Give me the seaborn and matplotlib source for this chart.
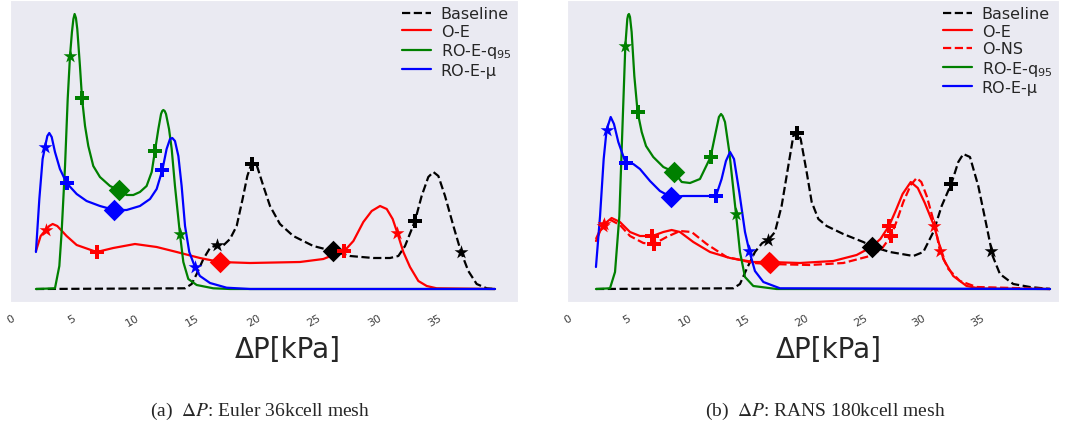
import matplotlib
matplotlib.use("Agg")
import matplotlib.pyplot as plt
import seaborn as sns

# ---- Euler 36kcell mesh (left panel) ----
euler_base_x = [2.06, 14.36, 14.91, 15.32, 15.87, 16.42, 16.97, 17.47, 18.07, 18.62, 19.11, 19.50, 19.86,
                20.27, 20.82, 21.37, 22.19, 23.29, 24.94, 26.54, 27.97, 29.89, 31.27, 31.96, 32.51, 33.33,
                33.88, 34.43, 34.85, 35.26, 35.81, 36.50, 37.13, 37.73, 38.42, 39.25, 39.93]
euler_base_y = [0, 0.0007, 0.005, 0.015, 0.030, 0.041, 0.044, 0.043, 0.050, 0.063, 0.090, 0.113, 0.126,
                0.124, 0.103, 0.083, 0.065, 0.053, 0.043, 0.038, 0.033, 0.031, 0.031, 0.033, 0.043, 0.068,
                0.093, 0.112, 0.117, 0.113, 0.093, 0.063, 0.037, 0.018, 0.005, 0.0007, 0]
euler_oe_x = [2.06, 2.45, 2.86, 3.16, 3.44, 3.82, 4.59, 5.42, 7.07, 8.44, 10.23, 12.02, 13.67, 15.59, 17.24,
              19.72, 23.84, 25.77, 26.59, 27.50, 28.25, 29.07, 29.76, 30.45, 31.00, 31.49, 31.88, 32.37,
              32.92, 33.61, 34.30, 35.12, 39.93]
euler_oe_y = [0.038, 0.053, 0.059, 0.063, 0.065, 0.063, 0.053, 0.044, 0.037, 0.041, 0.045, 0.042, 0.037,
              0.031, 0.027, 0.026, 0.027, 0.030, 0.034, 0.038, 0.048, 0.067, 0.078, 0.083, 0.080, 0.070,
              0.056, 0.037, 0.022, 0.008, 0.003, 0.0007, 0]
euler_q95_x = [2.06, 3.63, 3.99, 4.18, 4.46, 4.68, 4.87, 5.03, 5.15, 5.25, 5.36, 5.47, 5.69, 5.86, 6.11, 6.38,
               6.79, 7.34, 8.17, 8.88, 9.54, 10.09, 10.64, 11.19, 11.61, 11.88, 12.16, 12.38, 12.48, 12.57,
               12.68, 12.79, 13.04, 13.26, 13.53, 13.94, 14.22, 14.63, 15.32, 16.69, 18.07, 39.93]
euler_q95_y = [0, 0.0007, 0.023, 0.057, 0.123, 0.190, 0.233, 0.257, 0.270, 0.275, 0.271, 0.260, 0.223, 0.191,
               0.163, 0.143, 0.123, 0.112, 0.103, 0.099, 0.094, 0.094, 0.097, 0.103, 0.117, 0.138, 0.160,
               0.175, 0.178, 0.179, 0.178, 0.175, 0.160, 0.140, 0.103, 0.055, 0.027, 0.010, 0.004, 0.0007,
               0, 0]
euler_mu_x = [2.06, 2.34, 2.61, 2.81, 3.00, 3.16, 3.36, 3.63, 4.04, 4.59, 5.42, 6.24, 7.34, 8.53, 9.54, 10.64,
              11.47, 12.02, 12.49, 12.84, 13.12, 13.31, 13.53, 13.81, 14.08, 14.36, 14.71, 15.18, 15.59,
              16.42, 17.79, 19.72, 39.93]
euler_mu_y = [0.037, 0.090, 0.130, 0.142, 0.153, 0.156, 0.152, 0.137, 0.120, 0.106, 0.095, 0.088, 0.083,
              0.079, 0.079, 0.083, 0.090, 0.100, 0.119, 0.140, 0.150, 0.151, 0.148, 0.133, 0.103, 0.063,
              0.037, 0.022, 0.013, 0.006, 0.0013, 0, 0]
# quantile markers: star, plus, diamond, plus, star
euler_base_mx = [16.97, 19.86, 26.54, 33.33, 37.13]
euler_base_my = [0.044, 0.125, 0.038, 0.068, 0.037]
euler_oe_mx = [2.86, 7.07, 17.24, 27.50, 31.88]
euler_oe_my = [0.059, 0.037, 0.027, 0.038, 0.056]
euler_q95_mx = [4.87, 5.86, 8.88, 11.88, 13.94]
euler_q95_my = [0.233, 0.191, 0.099, 0.138, 0.055]
euler_mu_mx = [2.81, 4.59, 8.53, 12.49, 15.18]
euler_mu_my = [0.142, 0.106, 0.079, 0.119, 0.022]

# ---- RANS 180kcell mesh (right panel) ----
rans_base_x = [2.39, 14.13, 14.70, 15.27, 15.98, 16.60, 17.12, 17.69, 18.26, 18.83, 19.26, 19.54, 19.89,
               20.40, 20.83, 21.40, 22.11, 23.53, 25.24, 26.10, 27.52, 29.52, 30.37, 31.23, 31.94, 32.79,
               33.36, 33.79, 34.36, 35.07, 35.78, 36.30, 36.92, 38.06, 39.49, 41.20]
rans_base_y = [0, 0.0007, 0.005, 0.020, 0.037, 0.046, 0.049, 0.057, 0.083, 0.123, 0.153, 0.157, 0.150,
               0.117, 0.087, 0.070, 0.063, 0.055, 0.047, 0.042, 0.037, 0.033, 0.037, 0.057, 0.083, 0.106,
               0.127, 0.135, 0.132, 0.103, 0.063, 0.033, 0.015, 0.005, 0.002, 0]
rans_oe_x = [2.39, 2.75, 3.11, 3.73, 4.44, 5.30, 6.15, 7.21, 8.15, 8.86, 9.57, 10.71, 12.14, 13.85, 15.84,
             17.21, 19.83, 22.68, 24.67, 25.95, 26.70, 27.44, 28.00, 28.60, 29.30, 29.90, 30.50, 31.30,
             32.08, 32.93, 34.07, 35.20, 41.20]
rans_oe_y = [0.048, 0.058, 0.065, 0.071, 0.067, 0.057, 0.053, 0.053, 0.057, 0.059, 0.057, 0.047, 0.037,
             0.031, 0.027, 0.027, 0.026, 0.028, 0.034, 0.042, 0.050, 0.063, 0.078, 0.095, 0.107, 0.101,
             0.086, 0.063, 0.030, 0.013, 0.003, 0.0005, 0]
rans_ons_x = [2.39, 2.70, 3.02, 3.65, 4.44, 5.30, 6.44, 7.35, 8.43, 9.57, 10.57, 11.85, 13.56, 15.84, 17.30,
              20.68, 23.53, 25.81, 26.81, 27.61, 28.10, 28.66, 29.30, 29.80, 30.20, 30.66, 31.37, 31.79,
              32.51, 33.50, 34.93, 41.20]
rans_ons_y = [0.050, 0.058, 0.063, 0.069, 0.064, 0.053, 0.046, 0.045, 0.052, 0.058, 0.057, 0.045, 0.032,
              0.026, 0.025, 0.024, 0.026, 0.033, 0.040, 0.053, 0.068, 0.087, 0.104, 0.111, 0.107, 0.093,
              0.063, 0.038, 0.020, 0.008, 0.002, 0]
rans_q95_x = [2.39, 3.59, 4.02, 4.39, 4.65, 4.90, 5.07, 5.14, 5.21, 5.30, 5.44, 5.67, 5.95, 6.30, 6.67, 7.29,
              8.15, 9.06, 9.72, 10.43, 11.28, 12.19, 12.56, 12.90, 13.08, 13.22, 13.42, 13.79, 14.36, 14.70,
              15.13, 15.84, 17.83, 41.20]
rans_q95_y = [0, 0.0007, 0.017, 0.073, 0.160, 0.243, 0.270, 0.274, 0.275, 0.272, 0.257, 0.213, 0.177, 0.157,
              0.143, 0.132, 0.122, 0.117, 0.107, 0.106, 0.110, 0.132, 0.153, 0.172, 0.175, 0.173, 0.167,
              0.137, 0.075, 0.037, 0.012, 0.003, 0, 0]
rans_mu_x = [2.39, 2.74, 3.05, 3.30, 3.65, 3.93, 4.30, 4.93, 5.58, 6.15, 7.01, 7.86, 8.80, 9.86, 11.28, 12.65,
             13.13, 13.50, 13.85, 14.19, 14.64, 15.13, 15.50, 15.98, 16.70, 18.12, 41.20]
rans_mu_y = [0.022, 0.073, 0.130, 0.159, 0.172, 0.165, 0.147, 0.126, 0.125, 0.120, 0.108, 0.098, 0.092,
             0.093, 0.093, 0.093, 0.110, 0.128, 0.137, 0.130, 0.097, 0.057, 0.038, 0.018, 0.007, 0.0007, 0]
rans_base_mx = [17.12, 19.54, 26.00, 32.75, 36.20]
rans_base_my = [0.049, 0.156, 0.042, 0.105, 0.038]
rans_oe_mx = [3.11, 7.21, 17.21, 27.44, 31.30]
rans_oe_my = [0.065, 0.053, 0.027, 0.063, 0.063]
rans_ons_mx = [3.02, 7.35, 17.30, 27.61, 31.79]
rans_ons_my = [0.063, 0.045, 0.026, 0.053, 0.038]
rans_q95_mx = [4.90, 5.95, 9.06, 12.19, 14.36]
rans_q95_my = [0.243, 0.177, 0.117, 0.132, 0.075]
rans_mu_mx = [3.30, 4.93, 8.80, 12.65, 15.50]
rans_mu_my = [0.159, 0.126, 0.092, 0.093, 0.038]

tick_values = [0, 5, 10, 15, 20, 25, 30, 35]
marker_shapes = ['*', 'P', 'D', 'P', '*']
marker_sizes = [110, 90, 120, 90, 110]

sns.set_style('dark')
plt.rcParams['font.family'] = ['DejaVu Sans']
plt.rcParams['font.sans-serif'] = ['DejaVu Sans']
plt.rcParams['mathtext.fontset'] = 'dejavusans'


def draw_curve(ax, x, y, mx, my, color, ls, label):
    sns.lineplot(x=x, y=y, ax=ax, color=color, linestyle=ls, linewidth=1.6,
                 sort=False, estimator=None, label=label)
    for xi, yi, m, s in zip(mx, my, marker_shapes, marker_sizes):
        sns.scatterplot(x=[xi], y=[yi], ax=ax, marker=m, s=s, color=color,
                        linewidth=0, zorder=5)


def style_axis(ax, xlim, label_x, legend_size, spacing):
    ax.set_xlim(*xlim)
    ax.set_ylim(-0.013, 0.289)
    ax.set_xticks(tick_values)
    ax.set_xticklabels([str(t) for t in tick_values], family='DejaVu Sans')
    ax.tick_params(axis='x', labelsize=8, rotation=30, colors='.25', pad=4)
    ax.set_yticks([])
    ax.set_ylabel('')
    ax.set_xlabel('ΔP[kPa]', fontsize=20, family='DejaVu Sans')
    ax.xaxis.set_label_coords(label_x, -0.11)
    ax.legend(loc='upper right', frameon=False, labelspacing=spacing,
              handlelength=1.8, handletextpad=0.6, borderaxespad=0.0,
              prop={'family': 'DejaVu Sans', 'size': legend_size})


fig = plt.figure(figsize=(10.68, 4.31), dpi=100)
ax1 = fig.add_axes([10 / 1068, 128 / 431, 508 / 1068, 302 / 431])
ax2 = fig.add_axes([567 / 1068, 128 / 431, 492 / 1068, 302 / 431])

draw_curve(ax1, euler_base_x, euler_base_y, euler_base_mx, euler_base_my, 'black', '--', 'Baseline')
draw_curve(ax1, euler_oe_x, euler_oe_y, euler_oe_mx, euler_oe_my, 'red', '-', 'O-E')
draw_curve(ax1, euler_q95_x, euler_q95_y, euler_q95_mx, euler_q95_my, 'green', '-', 'RO-E-q$_{95}$')
draw_curve(ax1, euler_mu_x, euler_mu_y, euler_mu_mx, euler_mu_my, 'blue', '-', 'RO-E-μ')
style_axis(ax1, (-0.08, 41.83), 0.547, 11.5, 0.15)

draw_curve(ax2, rans_base_x, rans_base_y, rans_base_mx, rans_base_my, 'black', '--', 'Baseline')
draw_curve(ax2, rans_oe_x, rans_oe_y, rans_oe_mx, rans_oe_my, 'red', '-', 'O-E')
draw_curve(ax2, rans_ons_x, rans_ons_y, rans_ons_mx, rans_ons_my, 'red', '--', 'O-NS')
draw_curve(ax2, rans_q95_x, rans_q95_y, rans_q95_mx, rans_q95_my, 'green', '-', 'RO-E-q$_{95}$')
draw_curve(ax2, rans_mu_x, rans_mu_y, rans_mu_mx, rans_mu_my, 'blue', '-', 'RO-E-μ')
style_axis(ax2, (-0.085, 41.97), 0.533, 11.5, 0.15)

fig.text(260 / 1068, 1 - 411 / 431, r'(a)  $\Delta P$: Euler 36kcell mesh', ha='center', va='center',
         fontsize=14, family='Liberation Serif', math_fontfamily='stix')
fig.text(825 / 1068, 1 - 411 / 431, r'(b)  $\Delta P$: RANS 180kcell mesh', ha='center', va='center',
         fontsize=14, family='Liberation Serif', math_fontfamily='stix')

fig.savefig('out.png', dpi=100)
